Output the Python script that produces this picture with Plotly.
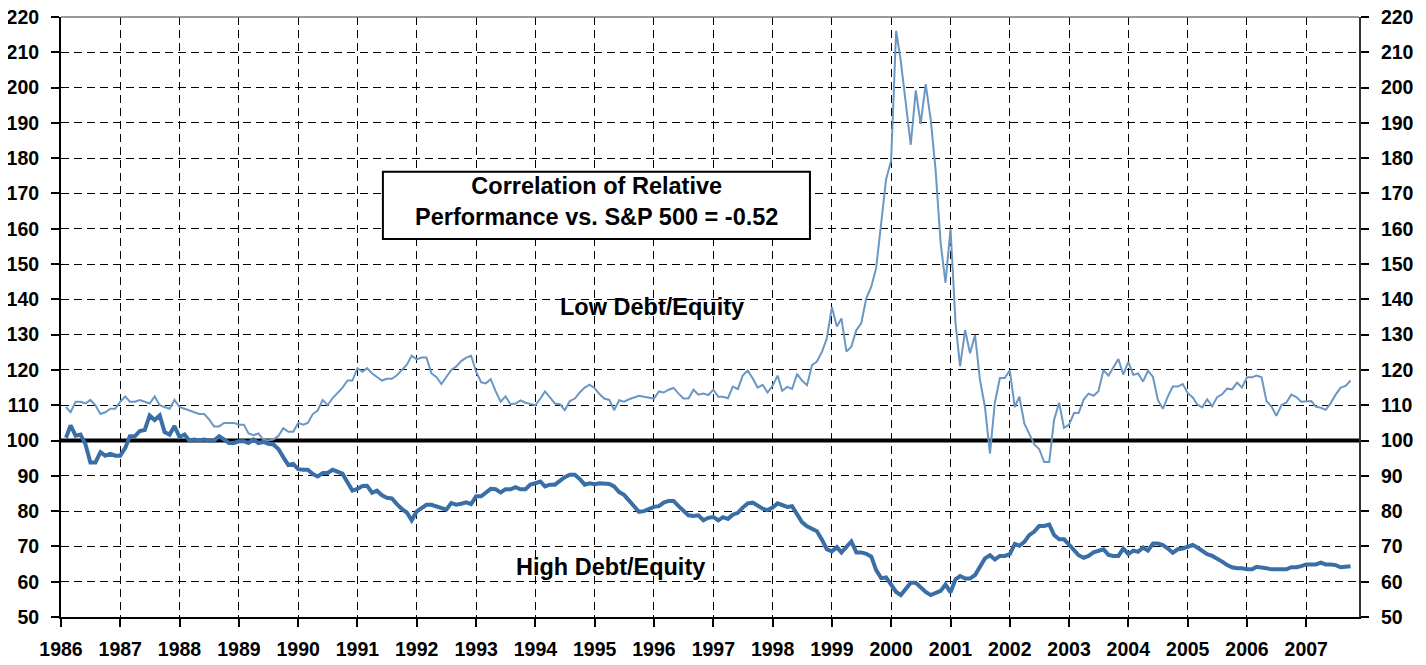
import pandas as pd
import plotly.graph_objects as go

# monthly relative performance vs S&P 500, Feb 1986 .. Oct 2007
start_month = "1986-02-01"

low_de = [
    # 1986 (Feb-Dec)
    109.5, 108, 111, 111, 110.5, 111.5, 110, 107.5, 108, 109, 109,
    # 1987
    111, 112.5, 111, 111, 111.5, 111, 110.5, 112.5, 110, 109.5, 109, 111.5,
    # 1988
    109.5, 109, 108.5, 108, 107.5, 107.5, 106, 104, 104, 105, 105, 105,
    # 1989
    104.5, 104.5, 102, 101.5, 102, 100.2, 100, 100.3, 101.3, 103.5, 102.5, 102.5,
    # 1990
    105, 104.5, 105, 107.5, 108.5, 111.5, 110, 112, 113.5, 115, 117, 117,
    # 1991
    120.5, 119.5, 120.5, 119, 118, 117, 117.5, 117.5, 118.5, 120, 121.5, 124,
    # 1992
    123, 123.5, 123.5, 119, 118, 116, 118, 120, 121, 122.5, 123.5, 124,
    # 1993
    119.5, 116.5, 116.2, 117.4, 114, 111, 112.5, 110.3, 110.5, 111.4, 110.7, 110.3,
    # 1994
    110, 111.9, 113.9, 112.2, 110.5, 110.3, 108.6, 111.2, 111.9, 113.6, 115, 115.8,
    # 1995
    114.8, 113.1, 111.9, 111.5, 108.6, 111.4, 111, 111.7, 112.2, 112.7, 112.4, 112.2,
    # 1996
    111.9, 113.9, 113.6, 114.4, 114.9, 113.3, 111.9, 111.9, 114.4, 113, 113.3, 112.9,
    # 1997
    114.4, 112.4, 112.4, 112, 115.3, 114.6, 118.4, 119.8, 117.6, 115, 115.8, 113.6,
    # 1998
    115.5, 118.4, 114.1, 115.2, 114.6, 118.9, 117, 115.7, 121.4, 122.4, 125.1, 128.9,
    # 1999
    137.8, 132.3, 134.6, 125.2, 126.6, 131.3, 133.2, 140.3, 143.6, 148.9, 162.5, 174,
    # 2000
    179.3, 216.1, 207.4, 194.6, 183.8, 199.2, 189.7, 201, 190.9, 176.7, 156, 144.7,
    # 2001
    160, 133.2, 121, 131.3, 124.7, 129.9, 117.3, 109.5, 96.3, 110.7, 117.7, 117.7,
    # 2002
    119.9, 109.5, 112.4, 104.8, 101.7, 98.9, 97.6, 93.9, 93.9, 105.9, 110.7, 103.6,
    # 2003
    104.5, 107.8, 107.8, 111.6, 113.3, 112.7, 114, 119.9, 118.4, 120.6, 123.1, 118.7,
    # 2004
    122.3, 118.6, 119, 116.7, 119.8, 118, 111.5, 109, 112.5, 115.3, 115.3, 116,
    # 2005
    113.5, 112.2, 110.2, 109.4, 111.7, 109.7, 112.3, 113.1, 114.7, 114.5, 116.4, 115,
    # 2006
    117.9, 117.9, 118.4, 117.9, 111.2, 109.6, 107, 110, 110.8, 113, 112.3, 111,
    # 2007 (Jan-Oct)
    111, 111.2, 109.6, 109.3, 108.7, 110.6, 113, 115, 115.5, 117,
]

high_de = [
    # 1986 (Feb-Dec)
    100.8, 104.3, 101.4, 101.7, 98.9, 93.8, 93.8, 96.7, 95.7, 96.2, 95.7,
    # 1987
    95.7, 97.9, 101.2, 101.2, 102.7, 103, 107.1, 105.8, 107.1, 102.4, 101.7, 104.1,
    # 1988
    101, 101.7, 100, 100.3, 100, 100.3, 100, 100, 101.2, 100.3, 99.3, 99.3,
    # 1989
    99.8, 99.8, 99.3, 100.3, 99.3, 99.6, 99.1, 98.9, 97.6, 95.3, 93.1, 93.4,
    # 1990
    91.9, 91.7, 91.7, 90.5, 89.8, 90.8, 90.8, 91.7, 91, 90.6, 88.1, 85.8,
    # 1991
    86.3, 87.1, 87.2, 85.2, 85.8, 84.5, 83.8, 83.6, 82, 80.6, 79.6, 77.4,
    # 1992
    79.9, 81, 81.8, 81.8, 81.4, 81, 80.4, 82.3, 81.8, 82.1, 82.5, 82,
    # 1993
    84.2, 84.2, 85.1, 86.3, 86.2, 85.3, 86.2, 86.2, 86.8, 86.2, 86.2, 87.5,
    # 1994
    87.9, 88.4, 87, 87.5, 87.5, 88.7, 89.6, 90.3, 90.3, 89.1, 87.5, 87.9,
    # 1995
    87.6, 87.9, 87.9, 87.7, 87, 85.4, 84.6, 83, 81.1, 79.8, 80, 80.5,
    # 1996
    81.2, 81.4, 82.4, 82.9, 82.9, 81.4, 80, 78.8, 78.6, 78.8, 77.4, 78.1,
    # 1997
    78.3, 77.4, 78.3, 77.8, 79, 79.5, 81, 82.2, 82.4, 81.4, 80.7, 80.3,
    # 1998
    81, 82.2, 81.6, 81.2, 81.4, 79, 76.9, 75.7, 75, 74.3, 71.9, 69.2,
    # 1999
    68.6, 69.8, 68.3, 70, 71.4, 68.3, 68.3, 67.9, 67.1, 63.3, 61, 61.2,
    # 2000
    59.3, 57.1, 56.2, 58.1, 59.7, 59.7, 58.4, 57.1, 56.2, 56.9, 57.4, 59.2,
    # 2001
    57, 60.7, 61.6, 60.9, 60.9, 61.9, 64.5, 66.6, 67.5, 66.3, 67.3, 67.3,
    # 2002
    67.8, 70.7, 70.2, 71.3, 73.2, 74.2, 75.8, 75.8, 76.2, 73.2, 72, 72,
    # 2003
    70.5, 69, 67.5, 66.8, 67.3, 68.3, 68.7, 69.2, 67.6, 67.3, 67.3, 69.4,
    # 2004
    67.8, 68.8, 68.5, 69.7, 68.8, 70.8, 70.8, 70.4, 69.4, 68.2, 69.2, 69.4,
    # 2005
    69.9, 70.4, 69.7, 68.8, 67.8, 67.3, 66.6, 65.7, 64.7, 64.1, 63.8, 63.8,
    # 2006
    63.5, 63.5, 64.2, 64.1, 63.8, 63.5, 63.5, 63.3, 63.5, 64.1, 64.1, 64.4,
    # 2007 (Jan-Oct)
    64.9, 64.9, 64.9, 65.4, 64.9, 64.9, 64.7, 64.1, 64.2, 64.4,
]

dates = pd.date_range(start=start_month, periods=len(low_de), freq="MS")

FONT = "Liberation Sans, Arial, sans-serif"
tickfont = dict(family=FONT, size=19.5, color="black", weight="bold")
labelfont = dict(family=FONT, size=23.5, color="black", weight="bold")

fig = go.Figure()
fig.add_trace(go.Scatter(x=dates, y=low_de, mode="lines",
                         line=dict(color="#6b97c4", width=2), name="Low Debt/Equity"))
fig.add_trace(go.Scatter(x=dates, y=high_de, mode="lines",
                         line=dict(color="#3a6ea6", width=4), name="High Debt/Equity"))
# invisible copy so the right-hand axis gets drawn
fig.add_trace(go.Scatter(x=dates, y=high_de, yaxis="y2", mode="lines",
                         line=dict(color="rgba(0,0,0,0)", width=0),
                         hoverinfo="skip", showlegend=False))

fig.add_hline(y=100, line=dict(color="black", width=4), layer="below")

# grey top border
fig.add_shape(type="line", xref="paper", yref="paper", x0=0, x1=1, y0=1, y1=1,
              line=dict(color="#777777", width=1.5))

# correlation box
fig.add_shape(type="rect", xref="paper", yref="paper",
              x0=0.248, x1=0.577, y0=0.630, y1=0.742,
              line=dict(color="black", width=2), fillcolor="white")
fig.add_annotation(xref="paper", yref="paper", x=0.4129, y=0.6917,
                   xanchor="center", yanchor="middle",
                   text="Correlation of Relative<br>Performance vs. S&P 500 = -0.52",
                   showarrow=False, align="center", font=labelfont)
fig.add_annotation(xref="paper", yref="paper", x=0.4553, y=0.5167,
                   xanchor="center", yanchor="middle",
                   text="Low Debt/Equity", showarrow=False, font=labelfont)
fig.add_annotation(xref="paper", yref="paper", x=0.4230, y=0.0833,
                   xanchor="center", yanchor="middle",
                   text="High Debt/Equity", showarrow=False, font=labelfont)

yaxis_common = dict(range=[50, 220], tick0=50, dtick=10, ticks="outside", ticklen=8,
                    tickwidth=1.5, tickcolor="black", tickfont=tickfont,
                    ticklabeloverflow="allow",
                    showline=True, linewidth=2, zeroline=False, fixedrange=True,
                    automargin=False)

# the page body adds an 8px offset, so the figure is sized to fit inside it
fig.update_layout(
    width=1410, height=657,
    margin=dict(l=53, r=59, t=9, b=48),
    paper_bgcolor="white", plot_bgcolor="white",
    showlegend=False,
    xaxis=dict(
        type="date", range=["1986-01-01", "2007-11-22"],
        tick0="1986-01-01", dtick="M12", tickformat="%Y",
        ticks="outside", ticklen=8, tickwidth=1.5, tickcolor="black",
        tickfont=tickfont, ticklabelstandoff=6, ticklabeloverflow="allow",
        automargin=False,
        showline=True, linecolor="black", linewidth=2,
        showgrid=True, gridcolor="black", gridwidth=1, griddash="8px,5px",
        zeroline=False,
    ),
    yaxis=dict(**yaxis_common, linecolor="black", ticklabelstandoff=8,
               showgrid=True, gridcolor="black", gridwidth=1, griddash="8px,5px"),
    yaxis2=dict(**yaxis_common, linecolor="#333333", overlaying="y", side="right",
                ticklabelstandoff=8, showgrid=False),
)

fig.write_html("out.html")
